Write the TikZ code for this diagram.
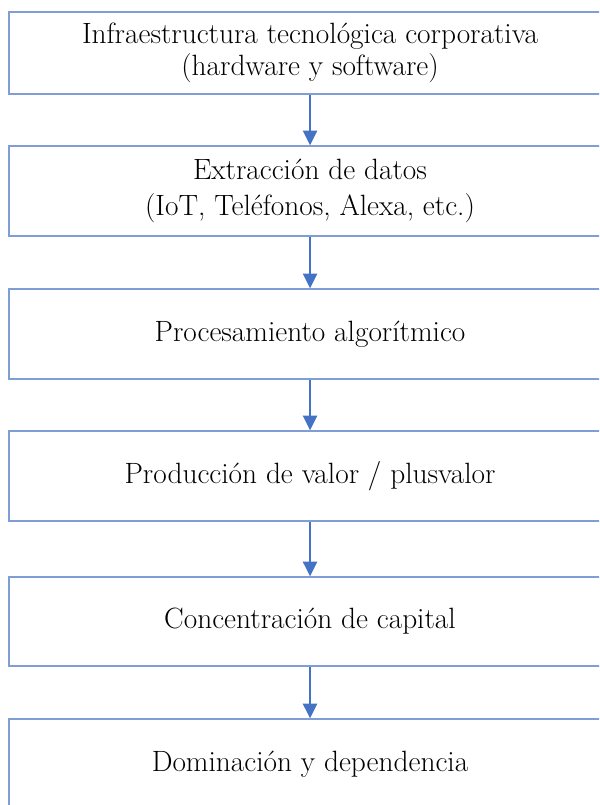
\documentclass[tikz,border=0pt]{standalone}
\usepackage{fontspec}
\usetikzlibrary{arrows.meta,positioning,calc}
\definecolor{cajaazul}{RGB}{128,158,214}
\definecolor{flechaazul}{RGB}{68,114,196}

\begin{document}
\begin{tikzpicture}[x=0.75pt,y=-0.75pt,
    caja/.style={draw=cajaazul,line width=1pt,minimum width=451.5pt,
      minimum height=67.5pt,inner sep=0pt,align=center,
      font=\fontsize{22}{24}\selectfont},
    flecha/.style={draw=flechaazul,line width=1.6pt,
      -{Triangle[length=11pt,width=10.5pt]}}]

       \useasboundingbox (0,0) rectangle (599,805);
       \clip (0,0) rectangle (599,805);

       % centros de las cajas
       \coordinate (CA) at (310, 53);
       \coordinate (CB) at (310,191);
       \coordinate (CC) at (310,334);
       \coordinate (CD) at (310,476);
       \coordinate (CE) at (310,621.5);
       \coordinate (CF) at (310,764);

       \node[caja,minimum height=61.5pt] (infra) at (CA)
       {Infraestructura tecnológica corporativa\\(hardware y software)};
       \node[caja] (extrac) at (CB)
       {Extracción de datos\\[3.5pt](IoT, Teléfonos, Alexa, etc.)};
       \node[caja] (proces) at (CC) {Procesamiento algorítmico};
       \node[caja] (produc) at (CD) {Producción de valor / plusvalor};
       \node[caja,minimum height=66.75pt] (concen) at (CE) {Concentración de capital};
       \node[caja] (domina) at (CF) {Dominación y dependencia};

       % flechas
       \draw[flecha] (infra)  -- (extrac);
       \draw[flecha] (extrac) -- (proces);
       \draw[flecha] (proces) -- (produc);
       \draw[flecha] (produc) -- (concen);
       \draw[flecha] (concen) -- (domina);
\end{tikzpicture}
\end{document}
